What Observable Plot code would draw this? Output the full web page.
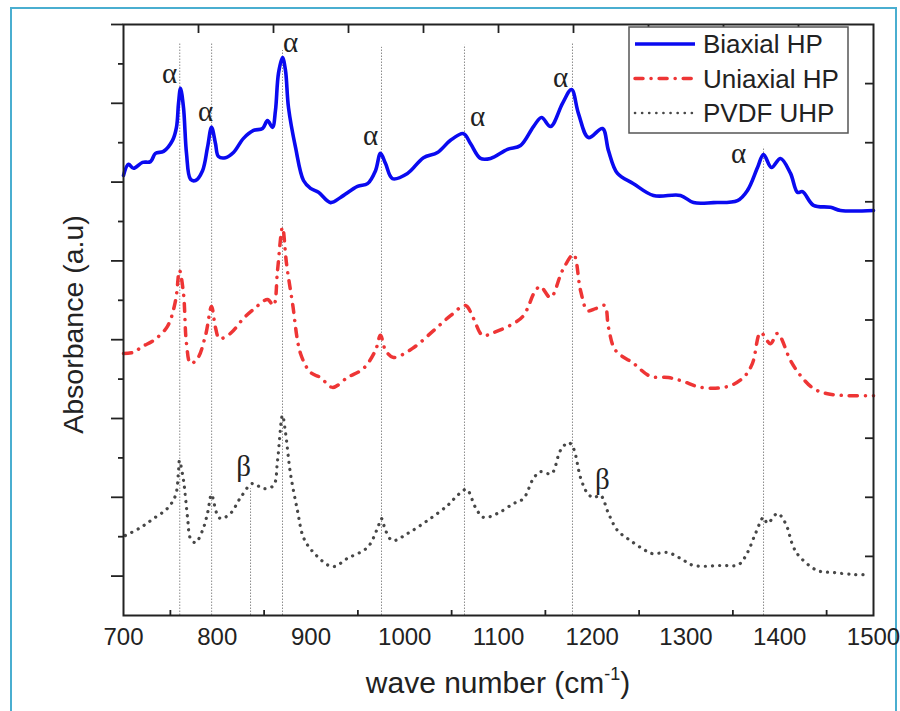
<!DOCTYPE html>
<html><head><meta charset="utf-8">
<script src="https://cdn.jsdelivr.net/npm/d3@7"></script>
<script src="https://cdn.jsdelivr.net/npm/@observablehq/plot@0.6"></script>
<style>
body{margin:0;background:#fff;}
#wrap{position:relative;width:900px;height:711px;overflow:hidden;background:#fff;}
#border{position:absolute;left:10px;top:7px;width:887px;height:730px;border:2px solid #4aaed0;box-sizing:border-box;}
#chart{position:absolute;left:0;top:0;}
</style></head><body><div id="wrap"><div id="border"></div><div id="chart"></div></div>
<script>
// ---- data (wavenumber cm^-1, absorbance in arbitrary units, stacked offsets as in figure)
const seriesNames = ["Biaxial HP", "Uniaxial HP", "PVDF UHP"];
const seriesColors = ["#0a0af0", "#ee3535", "#474747"];

const biaxialX = [700,705.3,710.7,720.3,728.8,734.1,742.7,752.3,756.5,758.7,760.8,764,767.2,771.5,776.8,784.3,789.6,793.9,798.1,801.3,808.8,817.3,828,838.7,848.3,853.6,858.9,862.1,865.3,869.6,872.8,876,883.5,892,899.5,908,920.8,931.5,949.6,960.3,968.8,974.1,979.5,986.9,1002.9,1020,1034.9,1048.8,1062.7,1070.1,1080.8,1091.5,1109.6,1123.5,1137.3,1145.9,1155.5,1168.3,1177.9,1185.3,1196,1210.9,1217.3,1226.9,1244,1265.3,1294.1,1308,1329.3,1354.9,1365.6,1376.3,1382.7,1391.2,1400.8,1411.5,1418.9,1424.3,1436,1454.1,1464.8,1500];
const biaxialY = [11.17,11.45,11.35,11.5,11.52,11.73,11.78,12.06,12.39,13.0,13.38,12.89,11.73,11.07,11.04,11.29,11.88,12.39,11.98,11.65,11.62,11.75,12.11,12.31,12.36,12.56,12.39,12.82,13.76,14.16,13.83,12.89,11.88,11.04,10.84,10.74,10.48,10.61,10.89,10.96,11.29,11.73,11.47,11.09,11.22,11.62,11.75,12.06,12.23,11.98,11.6,11.6,11.83,11.93,12.41,12.64,12.41,13.0,13.35,12.74,12.13,12.36,11.8,11.22,10.96,10.66,10.66,10.48,10.48,10.53,10.79,11.37,11.7,11.37,11.6,11.22,10.74,10.76,10.41,10.36,10.28,10.28];

const uniaxialX = [700,710.7,720.3,732,746.9,755.5,759.7,764,767.2,771.5,778.9,787.5,793.9,798.1,802.4,814.1,828,838.7,853.6,860,864.3,869.6,873.9,880.3,888.8,899.5,910.1,922.9,938.9,956,968.8,974.1,979.5,988,1008.3,1030.7,1048.8,1064.8,1073.3,1083,1094.7,1116,1126.7,1139.5,1144.8,1155.5,1168.3,1180,1187.5,1194.9,1203.5,1213.1,1217.3,1224.8,1244,1262.1,1281.3,1297.3,1315.5,1344.3,1361.3,1370.9,1379.5,1390.1,1397.6,1411.5,1422.1,1436,1450.9,1472.3,1500];
const uniaxialY = [6.65,6.68,6.83,6.98,7.34,7.99,8.76,8.17,6.9,6.4,6.52,7.11,7.84,7.31,7.03,7.16,7.54,7.77,8.02,7.87,8.76,9.85,8.93,7.92,6.65,6.17,6.04,5.79,6.04,6.27,6.73,7.11,6.73,6.55,6.78,7.23,7.61,7.87,7.54,7.11,7.18,7.41,7.61,8.25,8.35,8.07,8.76,9.16,8.25,7.74,7.79,7.87,7.31,6.73,6.4,6.07,6.04,5.94,5.79,5.81,6.04,6.4,7.18,6.9,7.16,6.47,6.09,5.76,5.63,5.58,5.58];

const uhpX = [702,718.1,732,746.9,755.5,758.7,759.7,764,768.3,771.5,776.8,784.3,789.6,793.9,799.2,803.5,814.1,824.8,837.6,849.3,860,864.3,869.6,872.8,878.1,885.6,892,902.7,922.9,938.9,960.3,970.9,975.2,979.5,986.9,1002.9,1024.3,1045.6,1056.3,1065.9,1075.5,1084,1098.9,1116,1126.7,1137.3,1144.8,1156.5,1166.1,1174.7,1180,1187.5,1194.9,1201.3,1208.8,1217.3,1226.9,1240.8,1254.7,1264.3,1280.3,1294.1,1308,1336.8,1356,1365.6,1374.1,1382.7,1386.9,1397.6,1406.1,1414.7,1422.1,1440.3,1457.3,1478.7,1495];
const uhpY = [2.03,2.23,2.46,2.72,3.05,3.68,3.93,3.43,2.49,1.95,1.85,2.16,2.59,3.07,2.61,2.46,2.59,2.99,3.35,3.22,3.3,3.93,5.08,4.64,3.6,2.66,1.98,1.6,1.24,1.45,1.73,2.21,2.46,2.16,1.9,2.08,2.41,2.79,3.05,3.2,2.74,2.49,2.59,2.84,2.97,3.48,3.65,3.6,4.19,4.39,4.24,3.5,3.1,2.99,3.05,2.59,2.16,1.9,1.68,1.57,1.6,1.45,1.27,1.27,1.29,1.6,2.08,2.49,2.34,2.59,2.34,1.73,1.47,1.14,1.09,1.04,1.04];

// peak marker lines (wavenumber, top of the dotted line in absorbance units)
const peakX   = [760, 794, 835.5, 869.6, 975.2, 1063.7, 1178.9, 1382.7];
const peakTop = [14.54, 14.54, 3.22, 14.34, 14.42, 14.47, 14.52, 11.88];

// band labels
const bandLabel = ["α","α","α","α","α","α","α","β","β"];
const bandX = [749.1, 787.5, 878.1, 963.5, 1077.6, 1166.1, 1356, 828, 1210.9];
const bandY = [13.76, 12.79, 14.54, 12.18, 12.66, 13.65, 11.73, 3.78, 3.45];

// axes
const xDomain = [700, 1500];
const yDomain = [0, 15];
const xTickLabels = [700, 800, 900, 1000, 1100, 1200, 1300, 1400, 1500];
const xMinorTicks = [750, 850, 950, 1050, 1150, 1250, 1350, 1450];
const xTopTicks = [780, 860, 940, 1020, 1100, 1180, 1260, 1340, 1420];
const yLongTicks = [1, 3, 5, 7, 9, 11, 13, 15];
const yShortTicks = [2, 4, 6, 8, 10, 12, 14];
const yRightTicks = [1.5, 3, 4.5, 6, 7.5, 9, 10.5, 12, 13.5];

const xTitle = "wave number (cm";
const xTitleSup = "-1";
const yTitle = "Absorbance (a.u)";

// ---- build
const W = 900, H = 711, mL = 123, mR = 27, mT = 24, mB = 96;
const innerW = W - mL - mR, innerH = H - mT - mB;
const toRows = (xs, ys) => xs.map((x, i) => ({x, y: ys[i]}));
const biaxial = toRows(biaxialX, biaxialY);
const uniaxial = toRows(uniaxialX, uniaxialY);
const uhp = toRows(uhpX, uhpY);
const peaks = peakX.map((x, i) => ({x, top: peakTop[i]}));
const bands = bandLabel.map((t, i) => ({t, x: bandX[i], y: bandY[i]}));
const ink = "#222";
const sans = "'Liberation Sans', Arial, sans-serif";

const plot = Plot.plot({
  width: W, height: H,
  marginLeft: mL, marginRight: mR, marginTop: mT, marginBottom: mB,
  x: {domain: xDomain, axis: null},
  y: {domain: yDomain, axis: null},
  style: {background: "transparent", fontFamily: sans, color: ink},
  marks: [
    Plot.ruleX(peaks, {x: "x", y1: 0, y2: "top", stroke: "#8c8c8c", strokeWidth: 1, strokeDasharray: "1.5,1.5"}),
    Plot.line(uhp, {x: "x", y: "y", stroke: seriesColors[2], strokeWidth: 3.2, strokeDasharray: "0.1,7", strokeLinecap: "round", curve: "catmull-rom"}),
    Plot.line(uniaxial, {x: "x", y: "y", stroke: seriesColors[1], strokeWidth: 3.5, strokeDasharray: "8,8,0.1,8", strokeLinecap: "round", curve: "catmull-rom"}),
    Plot.line(biaxial, {x: "x", y: "y", stroke: seriesColors[0], strokeWidth: 3.6, curve: "catmull-rom"}),
    Plot.text(bands, {x: "x", y: "y", text: "t", fontSize: 29, fontFamily: "'Liberation Serif', 'Times New Roman', serif", fill: ink, lineAnchor: "middle"}),
    Plot.frame({stroke: ink, strokeWidth: 2}),
    Plot.text(xTickLabels, {x: d => d, text: d => String(d), frameAnchor: "bottom", lineAnchor: "top", dy: 12, fontSize: 24, fill: ink}),
    Plot.tickX(xMinorTicks, {x: d => d, insetTop: innerH - 5, stroke: ink, strokeWidth: 1.8}),
    Plot.tickX(xTopTicks, {x: d => d, insetBottom: innerH - 9, stroke: ink, strokeWidth: 1.8}),
    Plot.tickY(yLongTicks, {y: d => d, insetLeft: -12, insetRight: innerW, stroke: ink, strokeWidth: 1.8}),
    Plot.tickY(yShortTicks, {y: d => d, insetLeft: -5, insetRight: innerW, stroke: ink, strokeWidth: 1.8}),
    Plot.tickY(yRightTicks, {y: d => d, insetLeft: innerW - 8, stroke: ink, strokeWidth: 1.8})
  ]
});
document.getElementById("chart").appendChild(plot);

// ---- titles and legend
const svg = d3.select(plot);
const xt = svg.append("text")
  .attr("x", mL + innerW / 2).attr("y", 693)
  .attr("text-anchor", "middle").attr("font-size", 30).attr("fill", ink)
  .attr("font-family", sans);
xt.append("tspan").text(xTitle);
xt.append("tspan").text(xTitleSup).attr("font-size", 18).attr("dy", -13);
xt.append("tspan").text(")").attr("dy", 13);

svg.append("text")
  .attr("transform", `translate(83,${mT + innerH / 2 + 5}) rotate(-90)`)
  .attr("text-anchor", "middle").attr("font-size", 28.5).attr("fill", ink)
  .attr("font-family", sans)
  .text(yTitle);

const lg = svg.append("g").attr("transform", "translate(629,27)");
lg.append("rect").attr("width", 219).attr("height", 106).attr("fill", "#fff").attr("stroke", "#555").attr("stroke-width", 1.5);
const legendDash = [null, "8,8,0.1,8", "0.1,7"];
const legendWidth = [3.6, 3.5, 2.6];
seriesNames.forEach((name, i) => {
  const cy = 17 + i * 34.5;
  lg.append("line").attr("x1", 6).attr("x2", 66).attr("y1", cy).attr("y2", cy)
    .attr("stroke", seriesColors[i]).attr("stroke-width", legendWidth[i])
    .attr("stroke-dasharray", legendDash[i]).attr("stroke-linecap", i === 0 ? "butt" : "round");
  lg.append("text").attr("x", 74).attr("y", cy).attr("dy", "0.36em")
    .attr("text-anchor", "start")
    .attr("font-size", 26).attr("fill", ink)
    .attr("font-family", sans).text(name);
});
</script>
</body></html>
